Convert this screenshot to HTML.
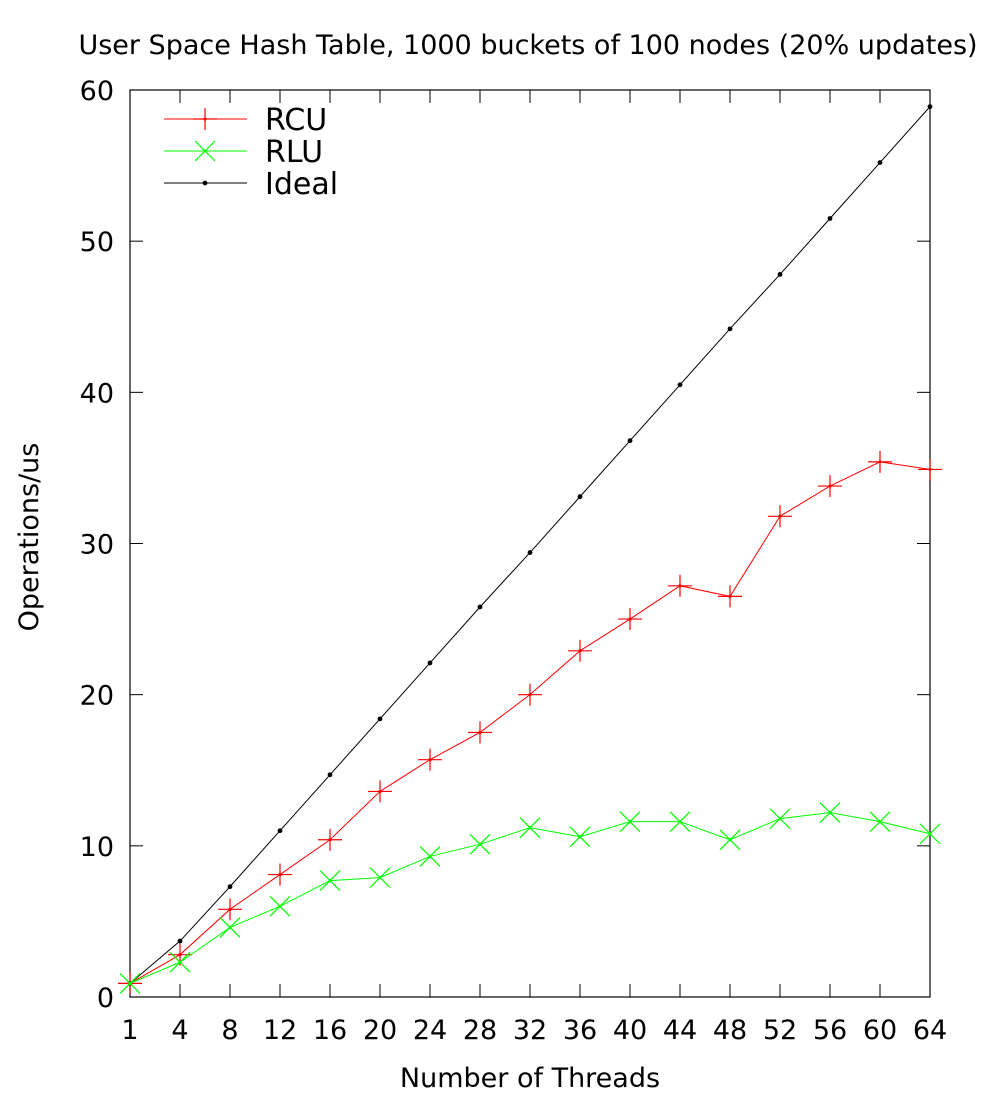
<!DOCTYPE html>
<html><head><meta charset="utf-8"><style>
body{margin:0;background:#fff;}
svg{display:block;font-family:"DejaVu Sans","Liberation Sans",sans-serif;}
</style></head><body>
<svg id="chart" width="985" height="1100" xmlns="http://www.w3.org/2000/svg">
<rect width="985" height="1100" fill="#fff"/>
</svg>
<script>
const categories=[1,4,8,12,16,20,24,28,32,36,40,44,48,52,56,60,64];
const rcuValues=[0.9,2.8,5.8,8.1,10.4,13.6,15.7,17.5,20.0,22.9,25.0,27.2,26.5,31.8,33.8,35.4,34.9];
const rluValues=[0.9,2.3,4.6,6.0,7.7,7.9,9.3,10.1,11.2,10.6,11.6,11.6,10.4,11.8,12.2,11.6,10.8];
const idealValues=[0.9,3.7,7.3,11.0,14.7,18.4,22.1,25.8,29.4,33.1,36.8,40.5,44.2,47.8,51.5,55.2,58.9];
const yTicks=[0,10,20,30,40,50,60];

const svg=document.getElementById('chart');
const NS='http://www.w3.org/2000/svg';
const L=130,R=930,T=90,B=997,yMax=60;
const xs=i=>L+(R-L)*i/(categories.length-1);
const ys=v=>B-(B-T)*v/yMax;
function mk(tag,attrs,parent){const e=document.createElementNS(NS,tag);for(const k in attrs)e.setAttribute(k,attrs[k]);(parent||svg).appendChild(e);return e;}

let t=mk('text',{x:528,y:54,'font-size':27,'text-anchor':'middle',fill:'#000'});
t.textContent='User Space Hash Table, 1000 buckets of 100 nodes (20% updates)';



let fr=mk('rect',{x:L,y:T,width:R-L,height:B-T,fill:'none',stroke:'#000','stroke-width':1.2});



yTicks.forEach(v=>{
  const y=ys(v);
  mk('line',{x1:L,y1:y,x2:L+13,y2:y,stroke:'#000'});
  mk('line',{x1:R,y1:y,x2:R-13,y2:y,stroke:'#000'});
  const tx=mk('text',{x:L-16,y:y+10,'font-size':27,'text-anchor':'end'});
  tx.textContent=v;
  
  
});
categories.forEach((c,i)=>{
  const x=xs(i);
  mk('line',{x1:x,y1:B,x2:x,y2:B-13,stroke:'#000'});
  mk('line',{x1:x,y1:T,x2:x,y2:T+13,stroke:'#000'});
  const tx=mk('text',{x:x,y:B+42,'font-size':27,'text-anchor':'middle'});
  tx.textContent=c;
  
  
});
let xl=mk('text',{x:530,y:1087,'font-size':27,'text-anchor':'middle'});
xl.textContent='Number of Threads';


let yl=mk('text',{x:0,y:0,'font-size':27,'text-anchor':'middle',transform:'translate(38,537) rotate(-90)'});
yl.textContent='Operations/us';



function plus(g,x,y,c){mk('line',{x1:x-12,y1:y,x2:x+12,y2:y,stroke:c,'stroke-width':1.2},g);mk('line',{x1:x,y1:y-11,x2:x,y2:y+11,stroke:c,'stroke-width':1.2},g);mk('circle',{cx:x,cy:y,r:1.6,fill:c},g);}
function cross(g,x,y,c){mk('line',{x1:x-10,y1:y-10,x2:x+10,y2:y+10,stroke:c,'stroke-width':1.2},g);mk('line',{x1:x-10,y1:y+10,x2:x+10,y2:y-10,stroke:c,'stroke-width':1.2},g);mk('circle',{cx:x,cy:y,r:1.6,fill:c},g);}
function dot(g,x,y,c){mk('circle',{cx:x,cy:y,r:2.4,fill:c},g);}

function series(vals,color,marker,name){
  const g=mk('g',{});
  
  
  const pts=vals.map((v,i)=>xs(i)+','+ys(v)).join(' ');
  mk('polyline',{points:pts,fill:'none',stroke:color,'stroke-width':1},g);
  vals.forEach((v,i)=>marker(g,xs(i),ys(v),color));
}
series(idealValues,'#000',dot,'ideal');
series(rcuValues,'#f00',plus,'rcu');
series(rluValues,'#0f0',cross,'rlu');

const legend=[['RCU','#f00',plus,119],['RLU','#0f0',cross,151],['Ideal','#000',dot,183]];
legend.forEach(([lab,c,m,y])=>{
  const g=mk('g',{});
  
  
  mk('line',{x1:164,y1:y,x2:247,y2:y,stroke:c,'stroke-width':1},g);
  m(g,205,y,c);
  const tx=mk('text',{x:265,y:y+11,'font-size':30},g);
  tx.textContent=lab;
});
</script>
</body></html>
